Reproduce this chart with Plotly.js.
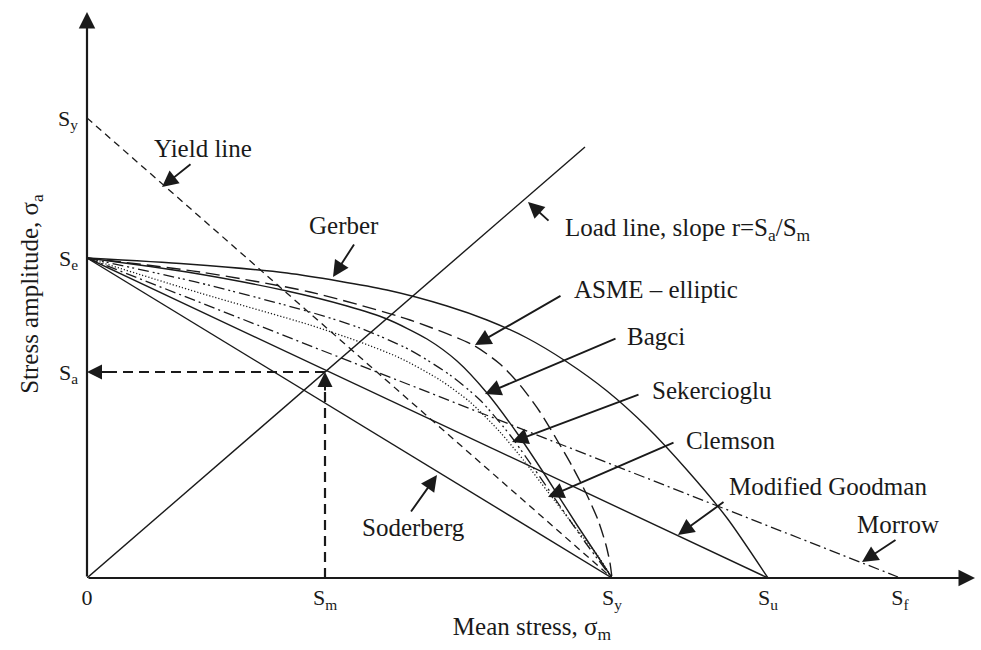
<!DOCTYPE html>
<html>
<head>
<meta charset="utf-8">
<script src="https://cdn.plot.ly/plotly-3.0.1.min.js"></script>
<style>html,body{margin:0;padding:0;background:#fff;}#chart{width:981px;height:650px;}</style>
</head>
<body>
<div id="chart"></div>
<script>
// ---- data (schematic units) ----
const xTickVals = [0, 238, 525, 681, 813];
const xTickText = ['0', 'S<sub>m</sub>', 'S<sub>y</sub>', 'S<sub>u</sub>', 'S<sub>f</sub>'];
const yTickVals = [206, 320, 460];
const yTickText = ['S<sub>a</sub>', 'S<sub>e</sub>', 'S<sub>y</sub>'];

const gerberX = [0, 100, 200, 300, 360, 400, 440, 480, 520, 560, 600, 640, 681];
const gerberY = [320, 314, 305, 288, 272, 258, 240, 216, 187, 151, 108, 60, 0];

const asmeX = [0, 113, 223, 323, 386, 413, 433, 453, 470, 485, 499, 511, 519, 523, 525];
const asmeY = [320, 306, 286, 258, 233, 214, 193, 166, 138, 112, 85, 58, 33, 15, 0];

const bagciX = [0, 100, 200, 260, 300, 340, 370, 400, 430, 460, 490, 525];
const bagciY = [320, 306, 287, 272, 259, 239, 217, 185, 145, 100, 53, 0];

const sekerX = [0, 113, 223, 273, 323, 363, 393, 423, 448, 473, 498, 525];
const sekerY = [320, 295, 266, 250, 228, 203, 178, 143, 108, 72, 36, 0];

const clemsonX = [0, 113, 223, 273, 313, 353, 383, 413, 438, 461, 488, 511, 525];
const clemsonY = [320, 285, 253, 236, 220, 198, 176, 146, 116, 86, 51, 22, 0];

const soderbergX = [0, 525];
const soderbergY = [320, 0];
const goodmanX = [0, 681];
const goodmanY = [320, 0];
const morrowX = [0, 811];
const morrowY = [320, 1];
const yieldX = [0, 525];
const yieldY = [460, 0];
const loadX = [0, 498];
const loadY = [0, 431];

const Sm = 238;
const Sa = 206;

const labelText = ['Yield line', 'Gerber', 'Load line, slope r=S<sub>a</sub>/S<sub>m</sub>', 'ASME \u2013 elliptic',
  'Bagci', 'Sekercioglu', 'Clemson', 'Modified Goodman', 'Morrow', 'Soderberg'];
const labelX = [65, 220, 476, 485, 538, 563, 597, 640, 768, 273];
const labelY = [430, 353, 349, 289, 242, 188, 138, 92, 54, 51];
const tailX = [105, 268, 463, 475, 530, 553, 588, 638, 810, 323];
const tailY = [415, 335, 356, 283, 240, 184, 136, 77, 39, 65];
const tipX = [75, 246, 441, 388, 398, 425, 461, 591, 775, 350];
const tipY = [391, 301, 376, 233, 184, 136, 81, 43, 16, 103];

// ---- styling ----
const INK = '#1a1a1a';
const FONT = 'Liberation Serif, Times New Roman, serif';
const LABEL_SIZE = 25;
const TICK_SIZE = 22;

function line(x, y, dash, width, shape) {
  return {x: x, y: y, type: 'scatter', mode: 'lines', hoverinfo: 'skip', showlegend: false,
    line: {color: INK, width: width || 1.3, dash: dash || 'solid', shape: shape || 'linear', smoothing: 0.7}};
}

const traces = [
  line(yieldX, yieldY, '7px,5px', 1.3),
  line(soderbergX, soderbergY, 'solid', 1.4),
  line(goodmanX, goodmanY, 'solid', 1.4),
  line(morrowX, morrowY, '11px,4px,2px,4px', 1.3),
  line(gerberX, gerberY, 'solid', 1.4, 'spline'),
  line(asmeX, asmeY, '14px,6px', 1.4, 'spline'),
  line(bagciX, bagciY, 'solid', 1.4, 'spline'),
  line(sekerX, sekerY, '11px,4px,2px,3px,2px,4px', 1.3, 'spline'),
  line(clemsonX, clemsonY, '1.2px,2px', 1.3, 'spline'),
  line(loadX, loadY, 'solid', 1.4),
  line([Sm, 0], [Sa, Sa], '10px,6px', 2.2),
  line([Sm, Sm], [0, Sa - 18], '10px,6px', 2.2)
];

const annotations = [];
for (let i = 0; i < labelText.length; i++) {
  annotations.push({x: labelX[i], y: labelY[i], xref: 'x', yref: 'y', text: labelText[i],
    showarrow: false, xanchor: 'left', yanchor: 'middle', font: {family: FONT, size: LABEL_SIZE, color: INK}});
  annotations.push({x: tipX[i], y: tipY[i], ax: tailX[i], ay: tailY[i], xref: 'x', yref: 'y',
    axref: 'x', ayref: 'y', text: '', showarrow: true, arrowhead: 2, arrowsize: 1.7,
    arrowwidth: 1.9, arrowcolor: INK, standoff: 0, startstandoff: 0});
}
// axes with arrow heads
annotations.push({x: 888, y: 0, ax: 0, ay: 0, xref: 'x', yref: 'y', axref: 'x', ayref: 'y', text: '',
  showarrow: true, arrowhead: 2, arrowsize: 1.5, arrowwidth: 2.2, arrowcolor: INK});
annotations.push({x: 0, y: 566, ax: 0, ay: 0, xref: 'x', yref: 'y', axref: 'x', ayref: 'y', text: '',
  showarrow: true, arrowhead: 2, arrowsize: 1.5, arrowwidth: 2.2, arrowcolor: INK});
// operating point arrows
annotations.push({x: 0, y: Sa, ax: 22, ay: Sa, xref: 'x', yref: 'y', axref: 'x', ayref: 'y', text: '',
  showarrow: true, arrowhead: 2, arrowsize: 1.5, arrowwidth: 2.0, arrowcolor: INK});
annotations.push({x: Sm, y: Sa, ax: Sm, ay: Sa - 20, xref: 'x', yref: 'y', axref: 'x', ayref: 'y', text: '',
  showarrow: true, arrowhead: 2, arrowsize: 1.5, arrowwidth: 2.0, arrowcolor: INK});

const layout = {
  width: 981, height: 650,
  margin: {l: 87, r: 4, t: 10, b: 72},
  paper_bgcolor: '#ffffff', plot_bgcolor: '#ffffff',
  showlegend: false,
  font: {family: FONT, size: 20, color: INK},
  xaxis: {range: [0, 890], showgrid: false, zeroline: false, showline: false, ticks: '',
    tickvals: xTickVals, ticktext: xTickText, tickfont: {family: FONT, size: TICK_SIZE, color: INK},
    ticklabelstandoff: 4, fixedrange: true,
    title: {text: 'Mean stress, \u03c3<sub>m</sub>', font: {family: FONT, size: LABEL_SIZE, color: INK}, standoff: 4}},
  yaxis: {range: [0, 568], showgrid: false, zeroline: false, showline: false, ticks: '',
    tickvals: yTickVals, ticktext: yTickText, tickfont: {family: FONT, size: TICK_SIZE, color: INK},
    ticklabelstandoff: 8, fixedrange: true,
    title: {text: 'Stress amplitude, \u03c3<sub>a</sub>', font: {family: FONT, size: LABEL_SIZE, color: INK}, standoff: 12}},
  annotations: annotations
};

Plotly.newPlot('chart', traces, layout, {displayModeBar: false, staticPlot: true});
</script>
</body>
</html>
